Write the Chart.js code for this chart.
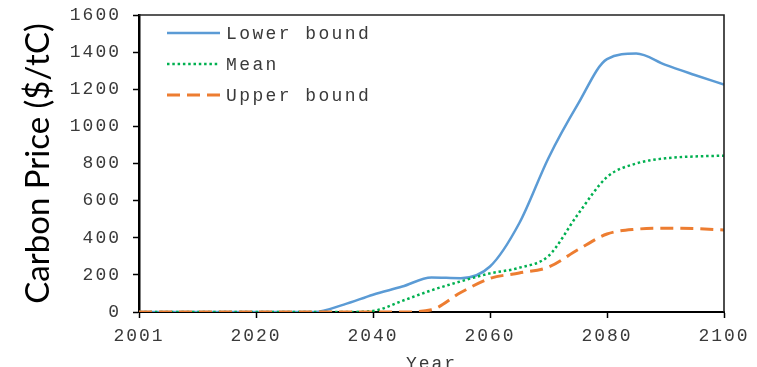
<!DOCTYPE html>
<html>
<head>
<meta charset="utf-8">
<script src="https://cdn.jsdelivr.net/npm/chart.js@4/dist/chart.umd.min.js"></script>
<style>
  html, body { margin: 0; padding: 0; overflow: hidden; background: #fff; }
  canvas { display: block; }
</style>
</head>
<body>
<canvas id="c" width="757" height="380"></canvas>
<script>
// Carbon price paths, $/tC, sampled every five years
const years = [2000, 2005, 2010, 2015, 2020, 2025, 2030, 2035, 2040, 2045, 2050,
               2055, 2060, 2065, 2070, 2075, 2080, 2085, 2090, 2095, 2100];
const lowerBound = [0, 0, 0, 0, 0, 0, 0, 40, 93, 137, 186,
                    182, 245, 478, 830, 1118, 1362, 1392, 1331, 1277, 1225];
const meanPrice  = [0, 0, 0, 0, 0, 0, 0, 0, 6, 60, 117,
                    165, 208, 238, 302, 525, 727, 800, 828, 838, 842];
const upperBound = [0, 0, 0, 0, 0, 0, 0, 0, 0, 0, 12,
                    105, 181, 210, 242, 335, 420, 446, 451, 449, 442];

const seriesNames = ['Lower bound', 'Mean', 'Upper bound'];
const xTickLabels = ['2001', '2020', '2040', '2060', '2080', '2100'];
const yTitle = 'Carbon Price ($/tC)';
const xTitle = 'Year';

const MONO = '"Liberation Mono", "Courier New", monospace';
const INK = '#3a3a3a';

function pts(vals) { return years.map((y, i) => ({ x: y, y: vals[i] })); }

// Typewriter-style text is spaced a little wider than the font's own advance
const spacing = {
  id: 'spacing',
  beforeUpdate(chart) { chart.ctx.letterSpacing = '2px'; },
  beforeDraw(chart) { chart.ctx.letterSpacing = '2px'; }
};

// Top and right edges of the plot box
const frame = {
  id: 'frame',
  afterDraw(chart) {
    const { ctx, chartArea: a } = chart;
    ctx.save();
    ctx.strokeStyle = '#222';
    ctx.lineWidth = 1.6;
    ctx.beginPath();
    ctx.moveTo(a.left, a.top);
    ctx.lineTo(a.right, a.top);
    ctx.lineTo(a.right, a.bottom);
    ctx.stroke();
    ctx.restore();
  }
};

// Legend inside the plot, top-left, with line samples
const insideLegend = {
  id: 'insideLegend',
  afterDraw(chart) {
    const { ctx, chartArea: a } = chart;
    ctx.save();
    chart.data.datasets.forEach((ds, i) => {
      const y = a.top + 18 + i * 31;
      const x0 = a.left + 28, x1 = a.left + 81;
      ctx.setLineDash(ds.borderDash || []);
      ctx.lineWidth = ds.borderWidth;
      ctx.strokeStyle = ds.borderColor;
      ctx.lineCap = 'butt';
      ctx.beginPath();
      ctx.moveTo(x0, y);
      ctx.lineTo(x1, y);
      ctx.stroke();
      ctx.setLineDash([]);
      ctx.letterSpacing = '2.4px';
      ctx.font = '18px ' + MONO;
      ctx.fillStyle = INK;
      ctx.textAlign = 'left';
      ctx.textBaseline = 'middle';
      ctx.fillText(ds.label, x1 + 6, y + 1);
    });
    ctx.restore();
  }
};

// Large vertical axis title
const sideTitle = {
  id: 'sideTitle',
  afterDraw(chart) {
    const { ctx, chartArea: a } = chart;
    ctx.save();
    ctx.letterSpacing = '0px';
    ctx.translate(38, (a.top + a.bottom) / 2);
    ctx.rotate(-Math.PI / 2);
    ctx.font = '33px Lato, "Open Sans", sans-serif';
    ctx.fillStyle = '#000';
    ctx.textAlign = 'center';
    ctx.textBaseline = 'middle';
    ctx.fillText(yTitle, 0, 0);
    ctx.restore();
  }
};

new Chart(document.getElementById('c'), {
  type: 'line',
  data: {
    datasets: [
      { label: seriesNames[0], data: pts(lowerBound), borderColor: '#5B9BD5',
        borderWidth: 2.5, order: 2 },
      { label: seriesNames[1], data: pts(meanPrice), borderColor: '#00B050',
        borderWidth: 2.5, borderDash: [2.5, 2.8], order: 1 },
      { label: seriesNames[2], data: pts(upperBound), borderColor: '#ED7D31',
        borderWidth: 3, borderDash: [13, 7], order: 0 }
    ]
  },
  options: {
    responsive: false,
    animation: false,
    events: [],
    parsing: false,
    layout: { padding: { left: 0, right: 33, top: 15, bottom: 0 } },
    elements: {
      point: { radius: 0 },
      line: { cubicInterpolationMode: 'monotone', fill: false }
    },
    plugins: { legend: { display: false }, tooltip: { enabled: false } },
    scales: {
      x: {
        type: 'linear', min: 2000, max: 2100,
        border: { display: true, color: '#000', width: 2 },
        grid: { display: true, drawOnChartArea: false, drawTicks: true,
                tickLength: 6, tickColor: '#000', tickWidth: 1.5 },
        ticks: {
          stepSize: 20, padding: 7, color: INK, maxRotation: 0,
          font: { family: MONO, size: 18 },
          callback: (v, i) => xTickLabels[i] ?? ''
        },
        title: { display: true, text: xTitle, color: INK,
                 font: { family: MONO, size: 18 }, padding: { top: 0, bottom: 5 } },
        afterFit(scale) {
          scale.height = 68;
          scale.paddingLeft = 0;
          scale.paddingRight = 0;
        }
      },
      y: {
        type: 'linear', min: 0, max: 1600,
        border: { display: true, color: '#000', width: 2.5 },
        grid: { display: true, drawOnChartArea: false, drawTicks: true,
                tickLength: 6, tickColor: '#000', tickWidth: 1.5 },
        ticks: {
          stepSize: 200, padding: 12, color: INK,
          font: { family: MONO, size: 18 },
          callback: v => String(v)
        },
        afterFit(scale) {
          scale.width = 139;
          scale.paddingTop = 0;
          scale.paddingBottom = 0;
        }
      }
    }
  },
  plugins: [spacing, frame, insideLegend, sideTitle]
});
</script>
</body>
</html>
